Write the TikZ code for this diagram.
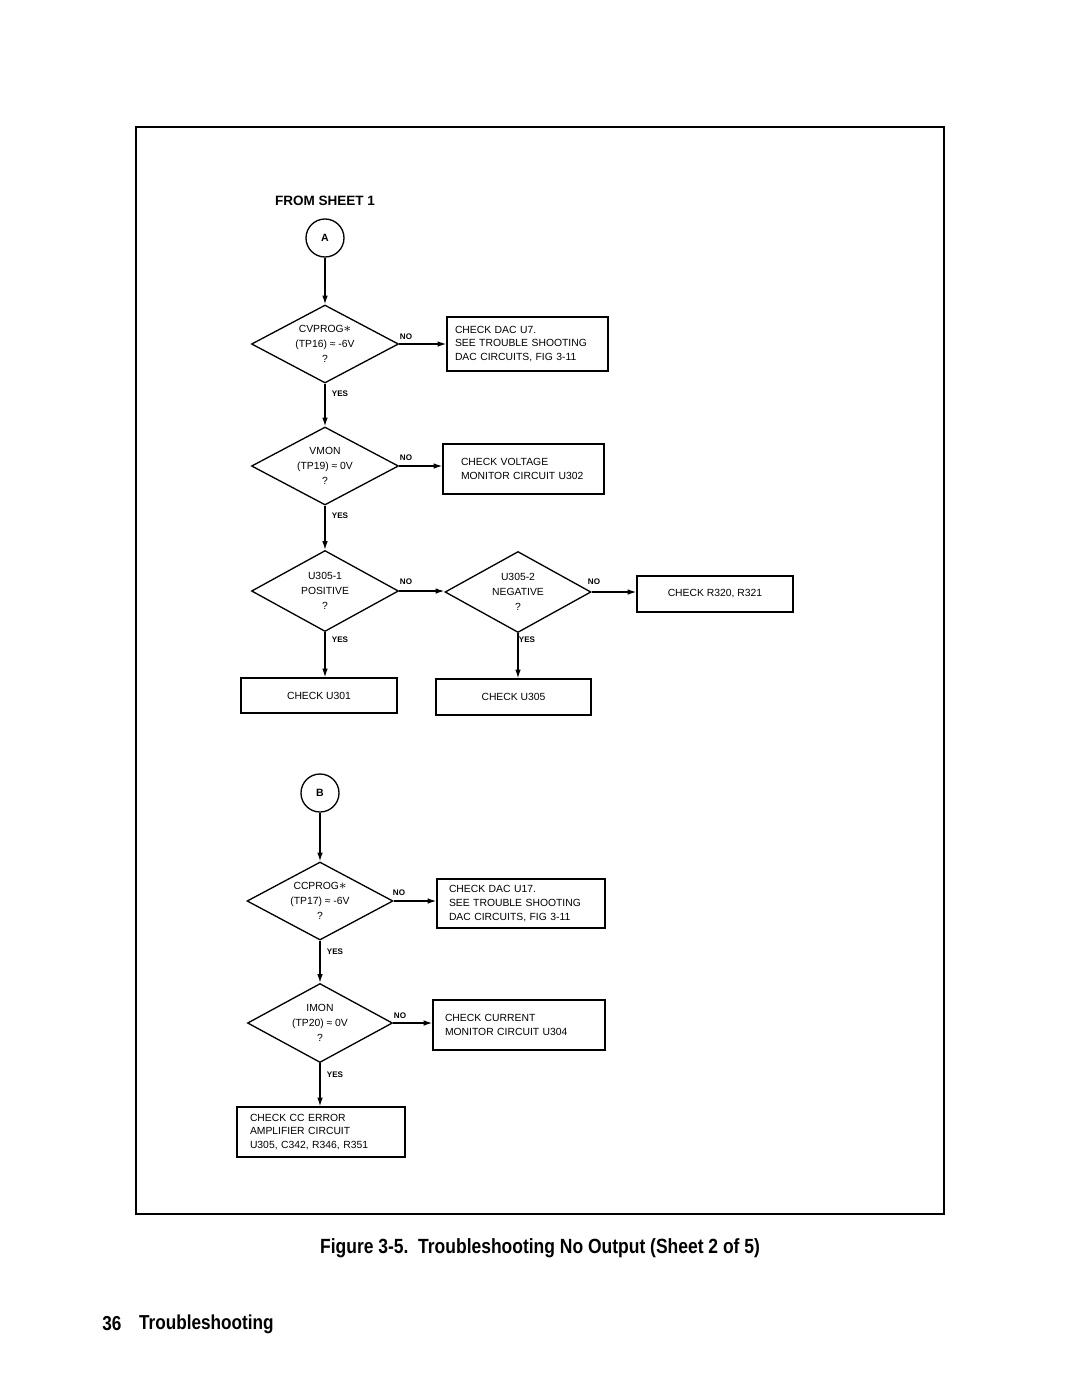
\documentclass[tikz,border=0pt]{standalone}
\usepackage{fontspec}
\setmainfont{Liberation Sans}
\newfontfamily\capfont[FakeStretch=0.85]{Liberation Sans}
\usetikzlibrary{shapes.geometric,arrows.meta}
\newlength\pxl
\setlength\pxl{0.02cm}
\newcommand\stx{{\fontsize{8}{8}\selectfont$\ast$}}
\tikzset{
  flow/.style={line width=0.75pt},
  arr/.style={flow,-{Latex[length=5pt,width=3.2pt]}},
  dia/.style={draw,flow,diamond,aspect=1.88,inner sep=0pt,align=center,
    font=\fontsize{5.9}{8.4}\selectfont},
  box/.style={draw,flow,rectangle,inner sep=0pt,
    font=\fontsize{5.9}{7.9}\selectfont},
  conn/.style={draw,flow,circle,minimum size=38\pxl,inner sep=0pt,
    font=\bfseries\fontsize{6}{7}\selectfont},
  lbl/.style={font=\bfseries\fontsize{4.6}{5}\selectfont,inner sep=0pt},
}
\begin{document}
\begin{tikzpicture}[x=0.02cm,y=-0.02cm]
\useasboundingbox (0,0) rectangle (1080,1397);
\draw[line width=0.6pt] (136,127) rectangle (944,1214);

\node[font=\bfseries\fontsize{7.7}{9}\selectfont] (from) at (325,201) {FROM SHEET 1};
\node[conn] (A) at (325,238) {A};

\node[dia,minimum width=147\pxl,minimum height=78\pxl] (d1) at (325,344)
  {CVPROG\stx\\(TP16) ≈ -6V\\?};
\node[box,minimum width=161\pxl,minimum height=54\pxl,text width=145\pxl,align=left] (b1) at (527.5,344)
  {CHECK DAC U7.\\SEE TROUBLE SHOOTING\\DAC CIRCUITS, FIG 3-11};

\node[dia,minimum width=147\pxl,minimum height=78\pxl] (d2) at (325,466)
  {VMON\\(TP19) ≈ 0V\\?};
\node[box,minimum width=161\pxl,minimum height=50\pxl,text width=125\pxl,align=left] (b2) at (523.5,469)
  {CHECK VOLTAGE\\MONITOR CIRCUIT U302};

\node[dia,minimum width=147\pxl,minimum height=81\pxl] (d3) at (325,591)
  {U305-1\\POSITIVE\\?};
\node[dia,minimum width=146\pxl,minimum height=81\pxl] (d4) at (518,592)
  {U305-2\\NEGATIVE\\?};
\node[box,minimum width=156\pxl,minimum height=36\pxl] (b3) at (715,594) {CHECK R320, R321};
\node[box,minimum width=156\pxl,minimum height=35\pxl] (b4) at (319,695.5) {CHECK U301};
\node[box,minimum width=155\pxl,minimum height=36\pxl] (b5) at (513.5,697) {CHECK U305};

\node[conn] (B) at (320,793) {B};
\node[dia,minimum width=146\pxl,minimum height=78\pxl] (d5) at (320,901)
  {CCPROG\stx\\(TP17) ≈ -6V\\?};
\node[box,minimum width=168\pxl,minimum height=49\pxl,text width=144\pxl,align=left] (b6) at (521,903.5)
  {CHECK DAC U17.\\SEE TROUBLE SHOOTING\\DAC CIRCUITS, FIG 3-11};
\node[dia,minimum width=145\pxl,minimum height=79\pxl] (d6) at (320,1023)
  {IMON\\(TP20) ≈ 0V\\?};
\node[box,minimum width=172\pxl,minimum height=50\pxl,text width=148\pxl,align=left] (b7) at (519,1025)
  {CHECK CURRENT\\MONITOR CIRCUIT U304};
\node[box,minimum width=168\pxl,minimum height=50\pxl,text width=142\pxl,align=left] (b8) at (321,1132)
  {CHECK CC ERROR\\AMPLIFIER CIRCUIT\\U305, C342, R346, R351};

% labels
\node[lbl] (n1) at (406,337) {NO};
\node[lbl] (n2) at (406,458) {NO};
\node[lbl] (n3) at (406,582) {NO};
\node[lbl] (n4) at (594,582) {NO};
\node[lbl] (n5) at (399,893) {NO};
\node[lbl] (n6) at (400,1016) {NO};
\node[lbl] (y1) at (340,394) {YES};
\node[lbl] (y2) at (340,516) {YES};
\node[lbl] (y3) at (340,640) {YES};
\node[lbl] (y4) at (527,640) {YES};
\node[lbl] (y5) at (335,952) {YES};
\node[lbl] (y6) at (335,1075) {YES};

% connectors
\draw[arr] (A) -- (d1);
\draw[arr] (d1.east) -- (d1.east -| b1.west);
\draw[arr] (d1) -- (d2);
\draw[arr] (d2.east) -- (d2.east -| b2.west);
\draw[arr] (d2) -- (d3);
\draw[arr] (d3.east) -- (d3.east -| d4.west);
\draw[arr] (d4.east) -- (d4.east -| b3.west);
\draw[arr] (d3.south) -- (d3.south |- b4.north);
\draw[arr] (d4.south) -- (d4.south |- b5.north);
\draw[arr] (B) -- (d5);
\draw[arr] (d5.east) -- (d5.east -| b6.west);
\draw[arr] (d5) -- (d6);
\draw[arr] (d6.east) -- (d6.east -| b7.west);
\draw[arr] (d6.south) -- (d6.south |- b8.north);

% caption and footer
\node[font=\capfont\bfseries\fontsize{11.7}{14}\selectfont] (cap) at (540,1248)
  {Figure 3-5.\ \ Troubleshooting No Output (Sheet 2 of 5)};
\node[font=\capfont\bfseries\fontsize{11.5}{14}\selectfont,anchor=west,inner sep=0pt] (pg) at (102,1324) {36};
\node[font=\capfont\bfseries\fontsize{11.5}{14}\selectfont,anchor=east,inner sep=0pt] (ts) at (274,1324) {Troubleshooting};
\end{tikzpicture}
\end{document}
